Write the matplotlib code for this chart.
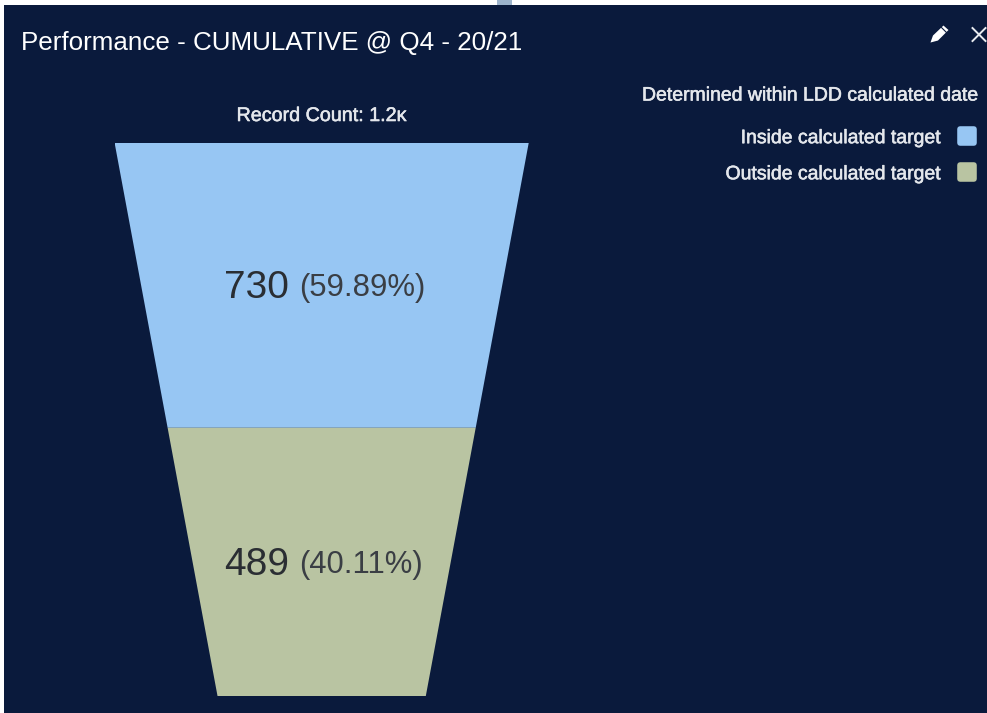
import matplotlib.pyplot as plt
import matplotlib.patheffects as pe
from matplotlib.lines import Line2D
from matplotlib.markers import MarkerStyle
from matplotlib.patches import Polygon, Rectangle

plt.rcParams['font.family'] = ['Liberation Sans', 'DejaVu Sans']

# Data
categories = ['Inside calculated target', 'Outside calculated target']
values = [730, 489]
percents = ['59.89%', '40.11%']
record_count = 'Record Count: 1.2κ'
title = 'Performance - CUMULATIVE @ Q4 - 20/21'
legend_title = 'Determined within LDD calculated date'

# Colours
bg = '#0a1a3c'
colors = ['#97c6f3', '#b9c4a2']
text_dark = '#2a2e33'
text_light = '#e4e7ec'

# a little over so the pixel size does not round down
fig = plt.figure(figsize=(9.875, 7.135), dpi=100, facecolor='white')
heavier = [pe.withStroke(linewidth=0.4, foreground=text_light)]

# Whole figure in pixels, for the panel and the icons
page = fig.add_axes([0, 0, 1, 1])
page.set_xlim(0, 987)
page.set_ylim(713, 0)
page.axis('off')
page.add_patch(Rectangle((4, 5), 990, 715, color=bg, lw=0))
page.add_patch(Rectangle((497, 0), 15, 5, color='#9db4cc', lw=0))

page.text(21, 43, title, color='white', fontsize=18.7, va='center', ha='left')

# Pencil and close icons
page.add_patch(Polygon([(930, 43), (932.5, 36), (943, 26), (948, 30.5), (937.5, 41)],
                       color='white', lw=0))
page.plot([941, 946], [28, 33], color=bg, lw=0.8)
page.plot([972, 985], [28.5, 41.5], color='#e8ebef', lw=1.4)
page.plot([972, 985], [41.5, 28.5], color='#e8ebef', lw=1.4)

# Funnel, x runs across the top width and y from top to bottom
ax = fig.add_axes([114.5 / 987, 1 - 696.5 / 713, 414 / 987, 553.5 / 713])
ax.set_xlim(-0.5, 0.5)
ax.set_ylim(1, 0)
ax.axis('off')


def funnel_width(y):
    return 1 - y * (1 - 208 / 414)


total = sum(values)
top = 0
for value, pct, color in zip(values, percents, colors):
    # segment height is mostly equal with a small share from the value
    height = 0.5 + 0.15 * (value / total - 0.5)
    if value == values[-1]:
        height = 1 - top
    bottom = top + height
    w0 = funnel_width(top) / 2
    w1 = funnel_width(bottom) / 2
    ax.add_patch(Polygon([(-w0, top), (w0, top), (w1, bottom), (-w1, bottom)],
                         facecolor=color, edgecolor='none'))
    mid = (top + bottom) / 2
    ax.annotate(str(value), (0, mid), xytext=(-23.5, -1.5), textcoords='offset points',
                ha='right', va='center', fontsize=28, color=text_dark)
    ax.annotate('(' + pct + ')', (0, mid), xytext=(-16.5, -1.5), textcoords='offset points',
                ha='left', va='center', fontsize=22.3, color='#3a3e44')
    top = bottom

ax.annotate(record_count, (0, 0), xytext=(0, 19.5), textcoords='offset points',
            ha='center', va='center', fontsize=14.2, color=text_light,
            annotation_clip=False, path_effects=heavier)

# Legend
handles = [Line2D([], [], linestyle='none', marker=MarkerStyle('s', joinstyle='round'),
                  markersize=10.4, color=c, markeredgewidth=4, markeredgecolor=c)
           for c in colors]
leg = fig.legend(handles, categories, title=legend_title, loc='upper right',
                 bbox_to_anchor=(980 / 987, 1 - 88 / 713), markerfirst=False,
                 alignment='right', frameon=False, fontsize=14, title_fontsize=14,
                 labelcolor=text_light, labelspacing=0.95, handlelength=1.34,
                 handletextpad=0.62, borderaxespad=0, borderpad=0)
leg.get_title().set_color(text_light)
leg.get_title().set_path_effects(heavier)
for label in leg.get_texts():
    label.set_path_effects(heavier)
leg._legend_box.sep = 18

fig.savefig('out.png', dpi=100, facecolor='white')
